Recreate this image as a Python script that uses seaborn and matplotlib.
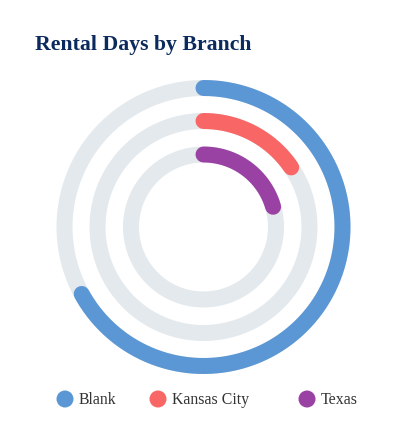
import numpy as np
import seaborn as sns
import matplotlib.pyplot as plt

# Share of rental days per branch (percent of full circle)
branches = ['Blank', 'Kansas City', 'Texas']
values = [67.0, 15.5, 20.5]
max_value = 100.0
colors = ['#5B97D4', '#F96666', '#9A42A3']
track_color = '#E3E9EC'

sns.set_style('white')
plt.rcParams['font.family'] = ['Liberation Serif', 'DejaVu Serif']

fig = plt.figure(figsize=(4.05, 4.37), dpi=100)
W, H = 405, 437
cx, cy, R = 203.5, 227, 150

ax = fig.add_axes([(cx - R) / W, (H - cy - R) / H, 2 * R / W, 2 * R / H],
                  projection='polar')
ax.set_theta_zero_location('N')
ax.set_theta_direction(-1)
ax.set_rlim(0, R)
ax.set_axis_off()

radii = [139, 106, 72.5]
lw = 16 * 72 / 100

full = np.linspace(0, 2 * np.pi, 400)
for r, v, c in zip(radii, values, colors):
    ax.plot(full, np.full_like(full, r), color=track_color, lw=lw,
            solid_capstyle='butt', zorder=1)
    theta = np.linspace(0, 2 * np.pi * v / max_value, 300)
    ax.plot(theta, np.full_like(theta, r), color=c, lw=lw,
            solid_capstyle='round', zorder=2)

fig.text(35 / W, 1 - 50 / H, 'Rental Days by Branch', fontsize=15.7,
         fontweight='bold', color='#0B2A5E', va='baseline')

# legend in pixel coordinates
lax = fig.add_axes([0, 0, 1, 1])
lax.set_xlim(0, W)
lax.set_ylim(H, 0)
lax.set_axis_off()
leg_x = [65, 158, 307]
leg_y = 399
sns.scatterplot(x=leg_x, y=[leg_y] * 3, hue=branches, palette=colors,
                s=150, edgecolor='none', legend=False, ax=lax)
for x, name in zip(leg_x, branches):
    lax.text(x + 14, 404, name, fontsize=11.4, color='#333333',
             va='baseline', ha='left')

fig.savefig('out.png', dpi=100)
